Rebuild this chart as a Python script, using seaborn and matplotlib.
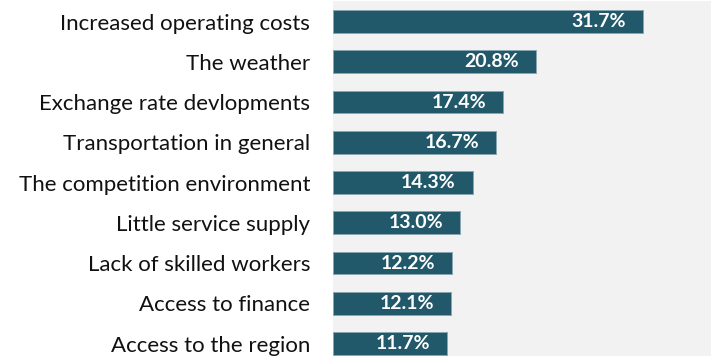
import matplotlib
matplotlib.use("Agg")
import matplotlib.pyplot as plt
import seaborn as sns
import pandas as pd

categories = [
    "Increased operating costs",
    "The weather",
    "Exchange rate devlopments",
    "Transportation in general",
    "The competition environment",
    "Little service supply",
    "Lack of skilled workers",
    "Access to finance",
    "Access to the region",
]
shares = [31.7, 20.8, 17.4, 16.7, 14.3, 13.0, 12.2, 12.1, 11.7]

df = pd.DataFrame({"category": categories, "share": shares})

sns.set_theme(style="white")
plt.rcParams["font.family"] = ["Lato", "DejaVu Sans"]

fig = plt.figure(figsize=(7.11, 3.56), dpi=100)
ax = fig.add_axes([333 / 711, 0.0, 1 - 333 / 711, 1 - 1 / 356])
ax.set_facecolor("#f2f2f2")

sns.barplot(data=df, x="share", y="category", orient="h", color="#22596a",
            saturation=1, width=0.57, edgecolor="#8aa6b0", linewidth=0.7, ax=ax)

ax.set_xlim(0, 38.65)
ax.set_ylim(8.31, -0.51)
ax.set_xlabel("")
ax.set_ylabel("")
ax.set_xticks([])
ax.tick_params(axis="y", length=0, pad=16.5, labelsize=16, labelcolor="#111111")
for s in ax.spines.values():
    s.set_visible(False)

for i, v in enumerate(shares):
    ax.text(v - 1.75, i, f"{v:.1f}%", ha="right", va="center", color="white",
            fontsize=14, fontweight="bold")

fig.savefig("out.png", dpi=100)
